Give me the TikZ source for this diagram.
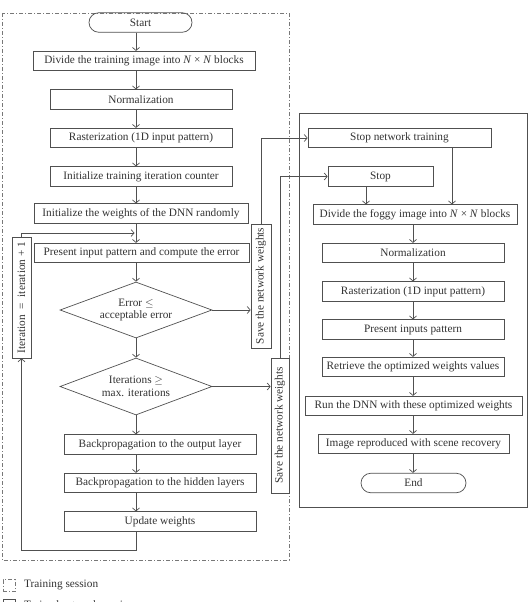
\documentclass[tikz,border=0pt]{standalone}
\usepackage{fontspec}
\setmainfont{Liberation Serif}
\usetikzlibrary{arrows.meta,shapes.geometric,shapes.misc}
\definecolor{lnc}{RGB}{80,80,80}
\definecolor{txc}{RGB}{50,50,50}
\definecolor{dashc}{RGB}{120,120,120}
\begin{document}
\begin{tikzpicture}[x=1pt,y=-1pt, font=\fontsize{11.3}{12.5}\selectfont, text=txc,
 box/.style={draw=lnc, line width=0.7pt, rectangle, inner sep=1pt, minimum height=19.5},
 term/.style={draw=lnc, line width=0.7pt, rounded rectangle, inner sep=1pt, minimum height=19.5},
 dia/.style={draw=lnc, line width=0.7pt, diamond, aspect=2.7, inner sep=0pt, align=center},
 arr/.style={draw=lnc, line width=0.7pt, -{Straight Barb[length=3pt,width=7pt]}},
 wire/.style={draw=lnc, line width=0.7pt},
 dframe/.style={draw=dashc, line width=0.7pt, dash pattern=on 4pt off 2pt on 1pt off 2pt}]
\useasboundingbox (0,0) rectangle (530,602);

% frames
\draw[dframe] (2,13) rectangle (289,560);
\draw[wire] (299,113) rectangle (527,507);

% left column
\node[term, minimum width=105] (start) at (140.5,22.5) {Start};
\node[box, minimum width=222] (div) at (144,61) {Divide the training image into \textit{N} × \textit{N} blocks};
\node[box, minimum width=182] (norm) at (141,99.5) {Normalization};
\node[box, minimum width=182] (rast) at (141,138) {Rasterization (1D input pattern)};
\node[box, minimum width=182] (cnt) at (141,176.5) {Initialize training iteration counter};
\node[box, minimum width=214] (initw) at (141,213.5) {Initialize the weights of the DNN randomly};
\node[box, minimum width=215] (pres) at (141.5,253) {Present input pattern and compute the error};
\node[dia, minimum width=152, minimum height=56] (err) at (136,310) {Error \ensuremath{\leq}\\acceptable error};
\node[dia, minimum width=152, minimum height=57] (iter) at (136,386.5) {Iterations \ensuremath{\geq}\\max. iterations};
\node[box, minimum width=192] (bpo) at (160,444.5) {Backpropagation to the output layer};
\node[box, minimum width=192] (bph) at (160,483) {Backpropagation to the hidden layers};
\node[box, minimum width=192] (upd) at (160,521.5) {Update weights};
\node[box, rotate=90, minimum width=121, minimum height=19] (itc) at (21.5,297.5) {Iteration \ = \ iteration + 1};
\node[box, rotate=90, minimum width=124, minimum height=20] (sv1) at (261,286) {Save the network weights};
\node[box, rotate=90, minimum width=135, minimum height=18] (sv2) at (280,425.5) {Save the network weights};

% right column
\node[box, minimum width=183] (snt) at (399.5,138) {Stop network training};
\node[box, minimum width=105] (stop) at (380.5,176.5) {Stop};
\node[box, minimum width=204] (dfog) at (415,214.5) {Divide the foggy image into \textit{N} × \textit{N} blocks};
\node[box, minimum width=182] (norm2) at (413,253) {Normalization};
\node[box, minimum width=182] (rast2) at (413,291.5) {Rasterization (1D input pattern)};
\node[box, minimum width=182] (pin) at (413,329.5) {Present inputs pattern};
\node[box, minimum width=182] (ret) at (413,367) {Retrieve the optimized weights values};
\node[box, minimum width=217] (run) at (413.5,406) {Run the DNN with these optimized weights};
\node[box, minimum width=191] (img) at (413.5,444) {Image reproduced with scene recovery};
\node[term, minimum width=107] (end) at (413.5,483) {End};

% column coordinates
\coordinate (c) at (136,0);
\coordinate (c2) at (413,0);
\coordinate (s1) at (366,0);
\coordinate (s2) at (452,0);
\coordinate (lb) at (21.5,550);
\coordinate (lt) at (21.5,233);
\coordinate (la) at (134.5,233);

% left arrows
\draw[arr] (start.south -| c) -- (div.north -| c);
\draw[arr] (div.south -| c) -- (norm.north -| c);
\draw[arr] (norm.south -| c) -- (rast.north -| c);
\draw[arr] (rast.south -| c) -- (cnt.north -| c);
\draw[arr] (cnt.south -| c) -- (initw.north -| c);
\draw[arr] (initw.south -| c) -- (pres.north -| c);
\draw[arr] (pres.south -| c) -- (err.north);
\draw[arr] (err.south) -- (iter.north);
\draw[arr] (iter.south) -- (bpo.north -| c);
\draw[arr] (bpo.south -| c) -- (bph.north -| c);
\draw[arr] (bph.south -| c) -- (upd.north -| c);
\draw[arr] (upd.south -| c) |- (lb) -- (itc.west);
\draw[arr] (itc.east) -- (lt) -- (la);
\draw[arr] (err.east) -- (err.east -| sv1.north);
\draw[arr] (iter.east) -- (iter.east -| sv2.north);
\draw[arr] (sv1.east) |- (snt.west);
\draw[arr] (sv2.east) |- (stop.west);

% right arrows
\draw[arr] (stop.south -| s1) -- (dfog.north -| s1);
\draw[arr] (snt.south -| s2) -- (dfog.north -| s2);
\draw[arr] (dfog.south -| c2) -- (norm2.north -| c2);
\draw[arr] (norm2.south -| c2) -- (rast2.north -| c2);
\draw[arr] (rast2.south -| c2) -- (pin.north -| c2);
\draw[arr] (pin.south -| c2) -- (ret.north -| c2);
\draw[arr] (ret.south -| c2) -- (run.north -| c2);
\draw[arr] (run.south -| c2) -- (img.north -| c2);
\draw[arr] (img.south -| c2) -- (end.north -| c2);

% legend
\node[dframe, minimum size=12, inner sep=0pt] (lg1) at (9,585.5) {};
\node[anchor=west, inner sep=0pt] (lt1) at (24,585) {Training session};
\node[wire, minimum size=12, inner sep=0pt] (lg2) at (9,605) {};
\node[anchor=west, inner sep=0pt] (lt2) at (24,605) {Trained network session};
\end{tikzpicture}
\end{document}
